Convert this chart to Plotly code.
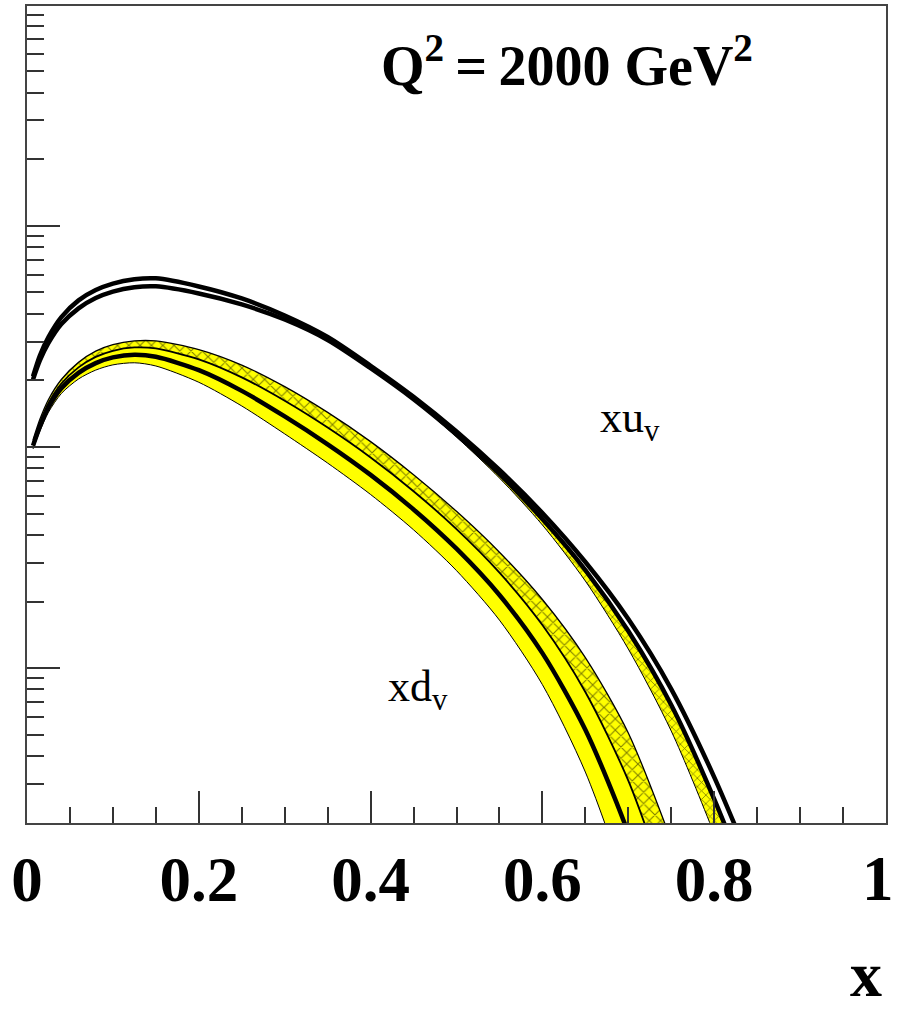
import plotly.graph_objects as go

# ---------------- data ----------------
x_grid = [0.007, 0.015, 0.025, 0.04, 0.06, 0.08, 0.1, 0.125, 0.15, 0.2, 0.25, 0.3,
          0.35, 0.4, 0.45, 0.5, 0.55, 0.6, 0.65, 0.7, 0.75, 0.8, 0.85]

# xu_v : two black curves (upper / lower)
xu_hi = [0.20845, 0.25944, 0.31458, 0.38704, 0.4606, 0.51280, 0.54878, 0.57392, 0.57934,
         0.53243, 0.4698, 0.39355, 0.31458, 0.23304, 0.16873, 0.11755, 0.07870, 0.05027,
         0.030175, 0.016663, 0.008035, 0.003212, 0.0011098]
xu_lo = [0.20204, 0.24626, 0.29554, 0.35982, 0.42377, 0.4718, 0.50486, 0.52801, 0.53300,
         0.49495, 0.44132, 0.37749, 0.30490, 0.22731, 0.16456, 0.11390, 0.07547, 0.04723,
         0.027761, 0.014703, 0.006801, 0.002554, 0.000829]
# xu_v hatched band (inner edge), from x = 0.45
xu_band_x = [0.45, 0.5, 0.55, 0.6, 0.65, 0.7, 0.75, 0.8, 0.85]
xu_band_low = [0.16370, 0.11098, 0.07240, 0.04437, 0.02476, 0.012191, 0.005187, 0.001774, 0.000524]
xu_band_high = xu_lo[14:]

# xd_v
xd_x = [0.007, 0.015, 0.025, 0.04, 0.06, 0.08, 0.1, 0.125, 0.15, 0.2, 0.25, 0.3,
        0.35, 0.4, 0.45, 0.5, 0.55, 0.6, 0.65, 0.7, 0.75]
xd_central = [0.10136, 0.12357, 0.15091, 0.18433, 0.21641, 0.23969, 0.25435, 0.26161,
              0.25594, 0.22259, 0.17940, 0.13753, 0.10285, 0.07477, 0.05219, 0.03466,
              0.02140, 0.011679, 0.005258, 0.001790, 0.000448]
xd_upper = [0.10757, 0.13345, 0.16404, 0.20204, 0.24144, 0.27132, 0.29034, 0.30175,
            0.30175, 0.27588, 0.23475, 0.18762, 0.14340, 0.10578, 0.07493, 0.05117,
            0.03342, 0.020415, 0.011144, 0.005085, 0.001659]
xd_mid = [0.10458, 0.12867, 0.15765, 0.19338, 0.22918, 0.25568, 0.27245, 0.28198,
          0.27906, 0.24911, 0.20652, 0.16184, 0.12240, 0.08964, 0.06310, 0.04251,
          0.02702, 0.015651, 0.007796, 0.003094, 0.000889]
xd_lower = [0.09794, 0.11802, 0.14370, 0.17461, 0.20310, 0.22282, 0.23524, 0.24044,
            0.23254, 0.19622, 0.15330, 0.11462, 0.08456, 0.060965, 0.04220, 0.027588,
            0.016473, 0.008412, 0.003384, 0.000969, 0.0002074]

x_tick_vals = [0, 0.2, 0.4, 0.6, 0.8, 1]
x_tick_text = ["0", "0.2", "0.4", "0.6", "0.8", "1"]

YELLOW = "#ffff00"
SERIF = "Liberation Serif"
LS = dict(shape="spline", smoothing=0.8)
HATCH = dict(shape="x", fgcolor="black", bgcolor=YELLOW, size=8, solidity=0.25)
TICKFONT = dict(family=SERIF, size=63, color="black", weight="bold")

fig = go.Figure()

# xd_v solid band (lower -> mid)
fig.add_trace(go.Scatter(x=xd_x, y=xd_lower, mode="lines",
                         line=dict(color="black", width=1, **LS), hoverinfo="skip"))
fig.add_trace(go.Scatter(x=xd_x, y=xd_mid, mode="lines", fill="tonexty", fillcolor=YELLOW,
                         line=dict(color="black", width=1.8, **LS), hoverinfo="skip"))
# xd_v hatched band (mid -> upper)
fig.add_trace(go.Scatter(x=xd_x, y=xd_upper, mode="lines", fill="tonexty", fillcolor=YELLOW,
                         fillpattern=HATCH,
                         line=dict(color="black", width=1.3, **LS), hoverinfo="skip"))
# xd_v central
fig.add_trace(go.Scatter(x=xd_x, y=xd_central, mode="lines",
                         line=dict(color="black", width=4.5, **LS), hoverinfo="skip"))

# xu_v hatched band
fig.add_trace(go.Scatter(x=xu_band_x, y=xu_band_low, mode="lines",
                         line=dict(color="black", width=1, **LS), hoverinfo="skip"))
fig.add_trace(go.Scatter(x=xu_band_x, y=xu_band_high, mode="lines", fill="tonexty",
                         fillcolor=YELLOW,
                         fillpattern=dict(shape="x", fgcolor="black", bgcolor=YELLOW,
                                          size=6, solidity=0.25),
                         line=dict(color="black", width=1, **LS), hoverinfo="skip"))
# xu_v curves
fig.add_trace(go.Scatter(x=x_grid, y=xu_lo, mode="lines",
                         line=dict(color="black", width=4.5, **LS), hoverinfo="skip"))
fig.add_trace(go.Scatter(x=x_grid, y=xu_hi, mode="lines",
                         line=dict(color="black", width=4.5, **LS), hoverinfo="skip"))

# the last tick label ("1") sits against the right page edge: drawn right-aligned
axis_text = [t if v < 1 else "" for v, t in zip(x_tick_vals, x_tick_text)]
edge_label = x_tick_text[-1]

fig.update_layout(
    width=897, height=1012,
    margin=dict(l=27, r=11, t=6, b=189, autoexpand=False),
    paper_bgcolor="white", plot_bgcolor="white",
    showlegend=False,
    xaxis=dict(range=[0, 1], showgrid=False, zeroline=False, automargin=False,
               showline=True, mirror=True, linecolor="#444", linewidth=2,
               ticks="inside", ticklen=32, tickwidth=2, tickcolor="#333",
               tickvals=x_tick_vals, ticktext=axis_text,
               tickfont=TICKFONT,
               minor=dict(ticks="inside", dtick=0.05, tick0=0, ticklen=16,
                          tickwidth=2, tickcolor="#333", showgrid=False)),
    yaxis=dict(type="log", range=[-2.701, 0.995], showgrid=False, zeroline=False,
               automargin=False,
               showline=True, mirror=True, linecolor="#444", linewidth=2,
               ticks="inside", ticklen=33, tickwidth=2, tickcolor="#333",
               dtick=1, showticklabels=False,
               minor=dict(ticks="inside", dtick="D1", ticklen=17,
                          tickwidth=2, tickcolor="#333", showgrid=False)),
    annotations=[
        dict(xref="paper", yref="paper", x=1.0116, y=-0.0685, xanchor="right",
             yanchor="middle", showarrow=False, text=edge_label, font=TICKFONT),
        dict(xref="paper", yref="paper", x=0.6286, y=0.9315, xanchor="center",
             yanchor="middle", showarrow=False,
             text="Q<sup>2</sup>\u2009=\u20092000 GeV<sup>2</sup>",
             font=dict(family=SERIF, size=56, color="black", weight="bold")),
        dict(xref="paper", yref="paper", x=0.702, y=0.493, xanchor="center",
             yanchor="middle", showarrow=False, text="xu<sub>v</sub>",
             font=dict(family=SERIF, size=44, color="black")),
        dict(xref="paper", yref="paper", x=0.455, y=0.163, xanchor="center",
             yanchor="middle", showarrow=False, text="xd<sub>v</sub>",
             font=dict(family=SERIF, size=44, color="black")),
        dict(xref="paper", yref="paper", x=0.9767, y=-0.2313, xanchor="center",
             yanchor="bottom", showarrow=False, text="x",
             font=dict(family=SERIF, size=64, color="black", weight="bold")),
    ],
)

fig.write_html("out.html")
